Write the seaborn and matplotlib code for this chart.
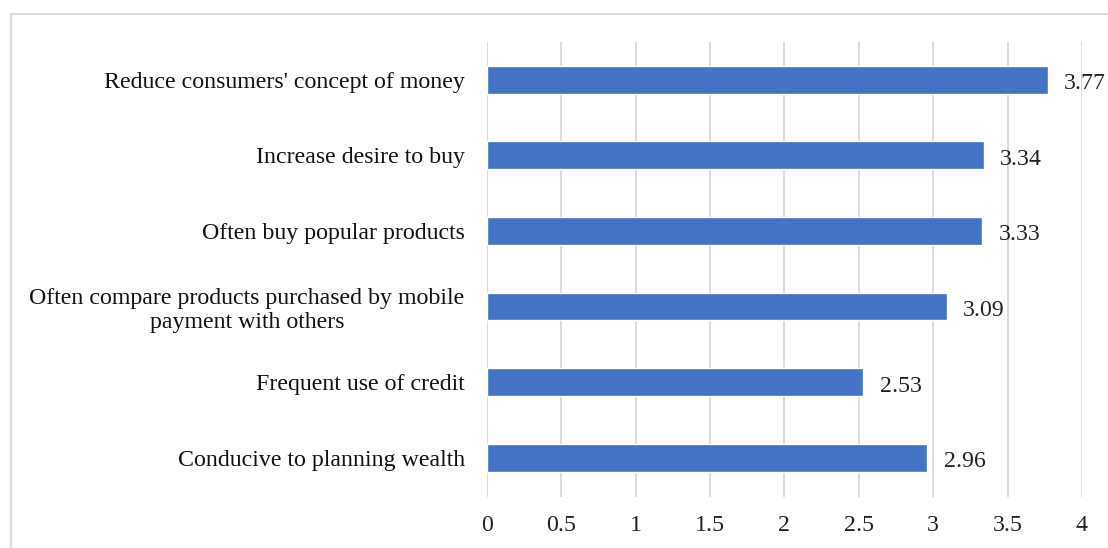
import matplotlib
matplotlib.use("Agg")
import matplotlib.pyplot as plt
from matplotlib.patches import Rectangle
import seaborn as sns
import pandas as pd

categories = [
    "Reduce consumers' concept of money",
    "Increase desire to buy",
    "Often buy popular products",
    "Often compare products purchased by mobile\npayment with others",
    "Frequent use of credit",
    "Conducive to planning wealth",
]
scores = [3.77, 3.34, 3.33, 3.09, 2.53, 2.96]
x_ticks = [0, 0.5, 1, 1.5, 2, 2.5, 3, 3.5, 4]
x_tick_labels = ["0", "0.5", "1", "1.5", "2", "2.5", "3", "3.5", "4"]

df = pd.DataFrame({"item": categories, "score": scores})

sns.set_theme(style="white")
plt.rcParams["font.family"] = ["Liberation Serif", "DejaVu Serif"]

fig = plt.figure(figsize=(11.08, 5.48), dpi=100)
ax = fig.add_axes([0.4395, 0.0931, 0.9765 - 0.4395, 0.9234 - 0.0931])

sns.barplot(data=df, x="score", y="item", orient="h", color="#4472C4",
            saturation=1, width=0.37, ax=ax, zorder=3)

for i, v in enumerate(scores):
    ax.text(v + 0.11, i + 0.02, f"{v:.2f}", va="center_baseline", ha="left",
            fontsize=17.2, color="#222222")

ax.set_xlim(0, 4)
ax.set_ylim(len(categories) - 0.5 + 0.02, -0.5)
ax.set_xticks(x_ticks)
ax.set_xticklabels(x_tick_labels)
ax.grid(axis="x", color="#d9d9d9", linewidth=1.3, zorder=0)
ax.grid(axis="y", visible=False)
ax.set_axisbelow(True)
for s in ax.spines.values():
    s.set_visible(False)
ax.set_xlabel("")
ax.set_ylabel("")
ax.tick_params(axis="x", length=0, pad=13, labelsize=17.2, labelcolor="#222222")
ax.tick_params(axis="y", length=0, pad=16, labelsize=17.2, labelcolor="#111111")
for lbl in ax.get_yticklabels():
    lbl.set_multialignment("center")

fig.patches.append(Rectangle((11 / 1108, -0.1), 1.2, 1 - 14 / 548 + 0.1,
                             transform=fig.transFigure, fill=False,
                             edgecolor="#d9d9d9", linewidth=1.5))

fig.savefig("out.png", dpi=100, facecolor="white")
